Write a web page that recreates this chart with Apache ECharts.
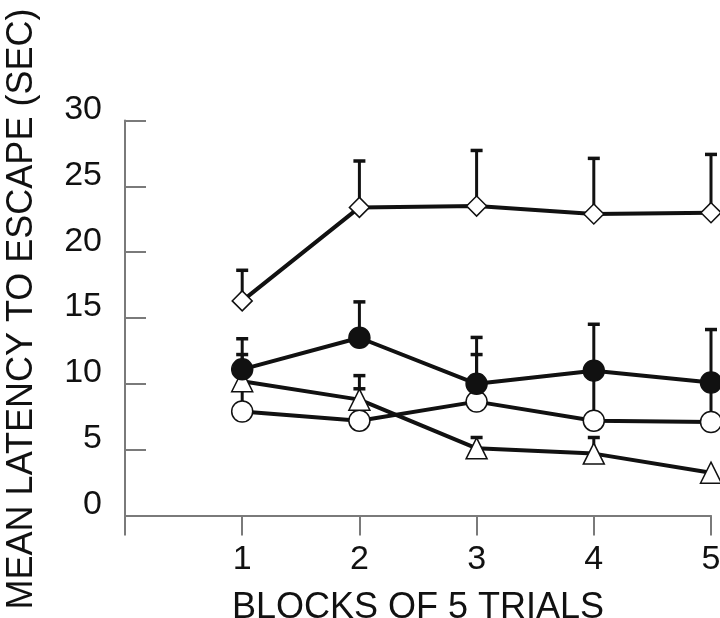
<!DOCTYPE html>
<html lang="en">
<head>
    <meta charset="UTF-8">
    <title>Mean latency to escape</title>
    <style>
        html, body { margin: 0; padding: 0; background: #fff; }
        #chart { width: 720px; height: 618px; }
    </style>
</head>
<body>
    <div id="chart"></div>
    <script src="https://cdn.jsdelivr.net/npm/echarts@6/dist/echarts.min.js"></script>
    <script>
        const blocks = [1, 2, 3, 4, 5]

        // group means and upper ends of the error bars (null = no bar visible)
        const diamondMean = [16.3, 23.4, 23.5, 22.9, 23.0]
        const diamondTop = [18.7, 27.0, 27.8, 27.2, 27.5]
        const filledMean = [11.1, 13.5, 10.0, 11.0, 10.1]
        const filledTop = [13.5, 16.3, 13.6, 14.6, 14.2]
        const openMean = [7.9, 7.2, 8.65, 7.2, 7.1]
        const openTop = [12.3, 10.7, 12.3, 11.0, 10.1]
        const triMean = [10.2, 8.8, 5.1, 4.7, 3.25]
        const triTop = [null, 9.7, 6.0, 6.0, null]

        const font = 'Liberation Sans, Arial, Helvetica, sans-serif'
        const axisGrey = '#7a7a7a'
        const ink = '#111'

        function points(means) {
            return blocks.map((b, i) => [b, means[i]])
        }

        function errData(means, tops) {
            const out = []
            blocks.forEach((b, i) => {
                if (tops[i] != null) out.push([b, means[i], tops[i]])
            })
            return out
        }

        function errorBars(means, tops) {
            return {
                type: 'custom',
                z: 1,
                silent: true,
                data: errData(means, tops),
                renderItem: function (params, api) {
                    const c = api.coord([api.value(0), api.value(1)])
                    const t = api.coord([api.value(0), api.value(2)])
                    const style = { stroke: ink, lineWidth: 3 }
                    return {
                        type: 'group',
                        children: [
                            { type: 'line', shape: { x1: c[0], y1: c[1], x2: t[0], y2: t[1] }, style: style },
                            { type: 'line', shape: { x1: t[0] - 6, y1: t[1] + 1, x2: t[0] + 6, y2: t[1] + 1 }, style: { stroke: ink, lineWidth: 3.5 } }
                        ]
                    }
                }
            }
        }

        function lineSeries(means, symbol, size, filled) {
            return {
                type: 'line',
                z: 3,
                data: points(means),
                symbol: symbol,
                symbolSize: size,
                showAllSymbol: true,
                lineStyle: { color: ink, width: 4 },
                itemStyle: {
                    color: filled ? ink : '#fff',
                    borderColor: ink,
                    borderWidth: 1.5
                },
                emphasis: { disabled: true }
            }
        }

        const chart = echarts.init(document.getElementById('chart'))
        chart.setOption({
            animation: false,
            textStyle: { fontFamily: font },
            grid: { left: 125, right: 9, top: 120.5, bottom: 102.5, outerBoundsMode: 'none', containLabel: false },
            xAxis: {
                type: 'value',
                min: 0,
                max: 5,
                interval: 1,
                name: 'BLOCKS OF 5 TRIALS',
                nameLocation: 'middle',
                nameGap: 75,
                nameTextStyle: { fontSize: 36, color: ink, fontFamily: font },
                axisLine: { lineStyle: { color: axisGrey, width: 2 } },
                axisTick: { inside: false, length: 20, lineStyle: { color: axisGrey, width: 2 } },
                axisLabel: {
                    fontSize: 34,
                    color: ink,
                    margin: 27,
                    fontFamily: font,
                    formatter: v => (v === 0 ? '' : String(v))
                },
                splitLine: { show: false }
            },
            yAxis: {
                type: 'value',
                min: 0,
                max: 30,
                interval: 5,
                name: 'MEAN LATENCY TO ESCAPE (SEC)',
                nameLocation: 'middle',
                nameGap: 85,
                nameRotate: 90,
                nameTextStyle: { fontSize: 36, color: ink, fontFamily: font, padding: [0, 0, 0, 18] },
                axisLine: { show: true, lineStyle: { color: axisGrey, width: 2 } },
                axisTick: { show: true, inside: true, length: 21, lineStyle: { color: axisGrey, width: 2 } },
                axisLabel: {
                    fontSize: 34,
                    color: ink,
                    margin: 23,
                    fontFamily: font,
                    verticalAlign: 'bottom',
                    lineHeight: 22
                },
                splitLine: { show: false }
            },
            series: [
                errorBars(diamondMean, diamondTop),
                errorBars(filledMean, filledTop),
                errorBars(openMean, openTop),
                errorBars(triMean, triTop),
                lineSeries(openMean, 'circle', 21, false),
                lineSeries(triMean, 'triangle', 21, false),
                lineSeries(filledMean, 'circle', 21, true),
                lineSeries(diamondMean, 'diamond', 20, false)
            ]
        })
    </script>
</body>
</html>
